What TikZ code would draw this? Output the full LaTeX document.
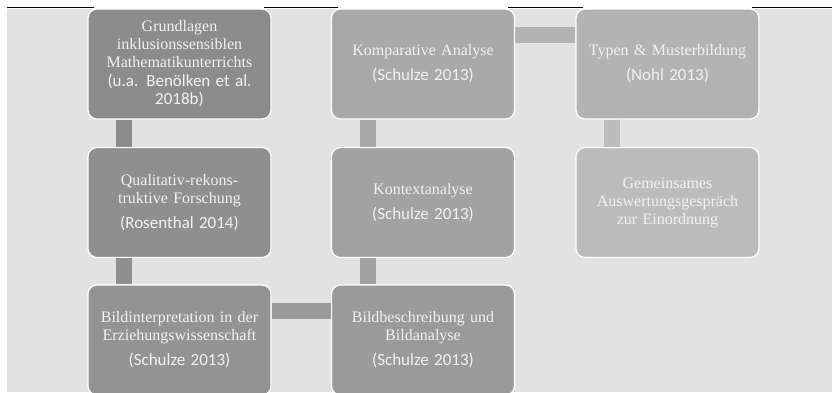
\documentclass[tikz,border=0pt]{standalone}
\usepackage{fontspec}
\setmainfont{Liberation Serif}
\newfontfamily\calibrifont{Carlito}

\definecolor{backgr}{HTML}{E2E2E2}
\definecolor{textgr}{HTML}{F2F2F2}
\definecolor{toneA}{HTML}{8C8C8C}
\definecolor{toneB}{HTML}{8F8F8F}
\definecolor{toneC}{HTML}{939393}
\definecolor{toneD}{HTML}{9A9A9A}
\definecolor{toneE}{HTML}{A2A2A2}
\definecolor{toneF}{HTML}{A9A9A9}
\definecolor{toneG}{HTML}{B3B3B3}
\definecolor{toneH}{HTML}{BCBCBC}

\newcommand{\quelle}[1]{{\calibrifont\fontsize{17}{19}\selectfont #1}}

\tikzset{
  stage/.style={draw=white, line width=1.2pt, rounded corners=9pt,
    minimum width=183pt, minimum height=110pt, text width=175pt,
    align=center, text=textgr, inner sep=0pt,
    font=\fontsize{16}{18}\selectfont},
  bar/.style={line width=16pt}
}

\begin{document}
\begin{tikzpicture}[x=1pt, y=-1pt]
  \useasboundingbox (0,0) rectangle (832,392);
  \fill[backgr] (7,9) rectangle (832,392);
  \draw[line width=1pt] (7,7.5) -- (94,7.5);
  \draw[line width=1pt] (264,7.5) -- (338,7.5);
  \draw[line width=1pt] (508,7.5) -- (583,7.5);
  \draw[line width=1pt] (752,7.5) -- (832,7.5);

  \node[stage, fill=toneA] (grundlagen) at (179.5, 64) {Grundlagen\\inklusionssensiblen\\Mathematikunterrichts\\[1pt]\quelle{(u.a. Benölken et al.}\\\quelle{2018b)}};
  \node[stage, fill=toneB] (qualitativ) at (179.5, 202.5) {Qualitativ-rekons-\\truktive Forschung\\[7pt]\quelle{(Rosenthal 2014)}};
  \node[stage, fill=toneC] (interpretation) at (179.5, 340) {Bildinterpretation in der\\Erziehungswissenschaft\\[7pt]\quelle{(Schulze 2013)}};
  \node[stage, fill=toneD] (beschreibung) at (423, 340) {Bildbeschreibung und\\Bildanalyse\\[7pt]\quelle{(Schulze 2013)}};
  \node[stage, fill=toneE] (kontext) at (423, 202.5) {Kontextanalyse\\[7pt]\quelle{(Schulze 2013)}};
  \node[stage, fill=toneF] (komparativ) at (423, 64) {Komparative Analyse\\[7pt]\quelle{(Schulze 2013)}};
  \node[stage, fill=toneG] (typen) at (667.5, 64) {Typen \& Musterbildung\\[7pt]\quelle{(Nohl 2013)}};
  \node[stage, fill=toneH] (gespraech) at (667.5, 202.5) {Gemeinsames\\Auswertungsgespräch\\zur Einordnung};

  \draw[bar, toneA] ([xshift=37pt]grundlagen.south west) -- ([xshift=37pt]qualitativ.north west);
  \draw[bar, toneB] ([xshift=37pt]qualitativ.south west) -- ([xshift=37pt]interpretation.north west);
  \draw[bar, toneD] ([yshift=-27pt]interpretation.north east) -- ([yshift=-27pt]beschreibung.north west);
  \draw[bar, toneE] ([xshift=37pt]beschreibung.north west) -- ([xshift=37pt]kontext.south west);
  \draw[bar, toneF] ([xshift=37pt]kontext.north west) -- ([xshift=37pt]komparativ.south west);
  \draw[bar, toneG] ([yshift=-27pt]komparativ.north east) -- ([yshift=-27pt]typen.north west);
  \draw[bar, toneH] ([xshift=37pt]typen.south west) -- ([xshift=37pt]gespraech.north west);
\end{tikzpicture}
\end{document}
